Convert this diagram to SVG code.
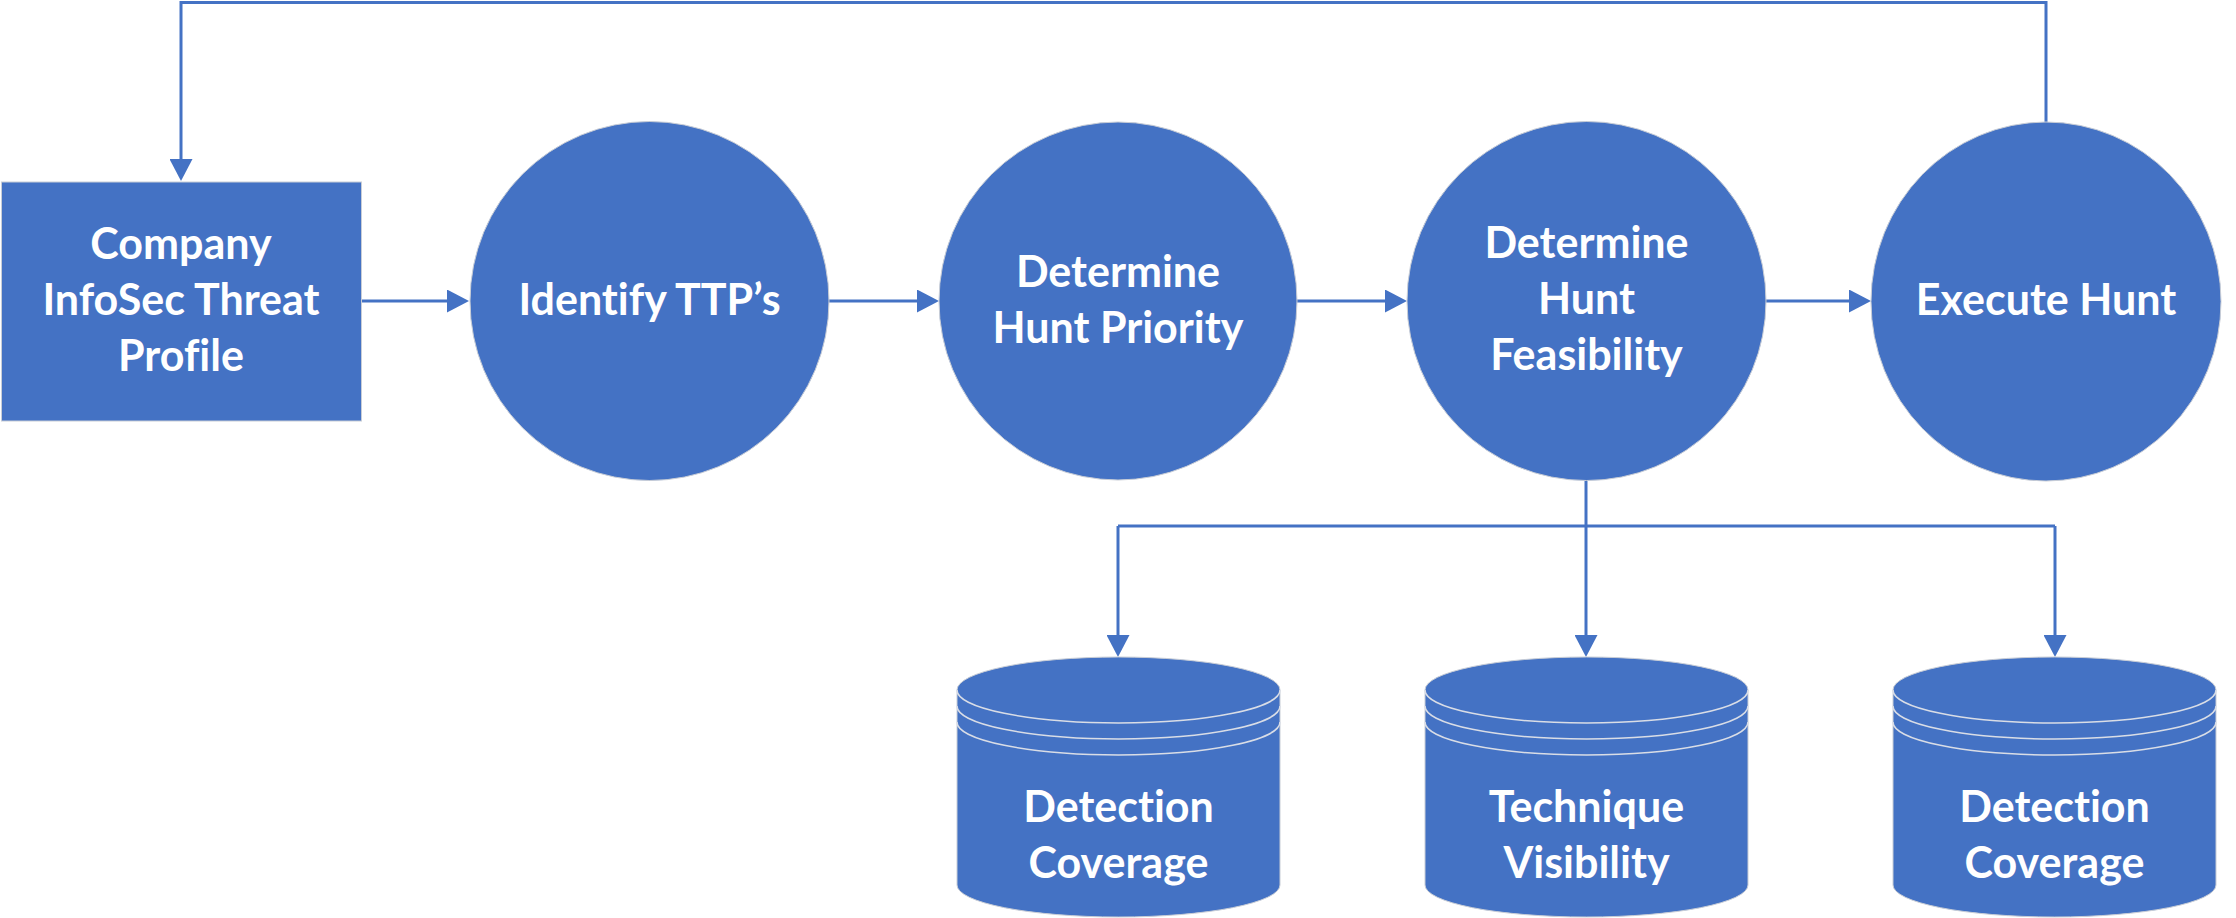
<svg xmlns="http://www.w3.org/2000/svg" width="2236" height="918" viewBox="0 0 2236 918">
<style>
.shape{fill:#4472C4;stroke:#c8cdd6;stroke-width:1}
.band{fill:none;stroke:#d9dde6;stroke-width:1.5}
.lbl{font-family:Lato,"Open Sans","Liberation Sans",sans-serif;font-weight:bold;font-size:43px;fill:#ffffff;text-anchor:middle;font-variant-ligatures:none;font-feature-settings:"liga" 0,"clig" 0}
.conn{fill:none;stroke:#4472C4;stroke-width:3}
</style>
<defs>
<marker id="arr" viewBox="0 0 22 23" markerWidth="22" markerHeight="23" refX="12" refY="11.5" orient="auto" markerUnits="userSpaceOnUse">
<path d="M0,0 L22,11.5 L0,23 z" fill="#4472C4"/>
</marker>
</defs>
<rect width="2236" height="918" fill="#ffffff"/>
<g id="connectors">
<path class="conn" d="M2046,122 V2.5 H181 V171" marker-end="url(#arr)"/>
<path class="conn" d="M361,301 H459" marker-end="url(#arr)"/>
<path class="conn" d="M829,301 H929" marker-end="url(#arr)"/>
<path class="conn" d="M1297,301 H1397" marker-end="url(#arr)"/>
<path class="conn" d="M1766,301 H1861" marker-end="url(#arr)"/>
<path class="conn" d="M1118,526 H2055"/>
<path class="conn" d="M1586,480 V647" marker-end="url(#arr)"/>
<path class="conn" d="M1118,526 V647" marker-end="url(#arr)"/>
<path class="conn" d="M2055,526 V647" marker-end="url(#arr)"/>
</g>
<g id="node-profile">
<rect class="shape" x="1.5" y="182" width="360" height="239"/>
<text class="lbl" x="181" y="259">Company</text>
<text class="lbl" x="181" y="315">InfoSec Threat</text>
<text class="lbl" x="181" y="371">Profile</text>
</g>
<g id="node-identify">
<circle class="shape" cx="649.5" cy="301" r="179.5"/>
<text class="lbl" x="649.5" y="315">Identify TTP’s</text>
</g>
<g id="node-priority">
<circle class="shape" cx="1118" cy="301" r="179"/>
<text class="lbl" x="1118" y="287">Determine</text>
<text class="lbl" x="1118" y="343">Hunt Priority</text>
</g>
<g id="node-feasibility">
<circle class="shape" cx="1586.5" cy="301" r="179.5"/>
<text class="lbl" x="1586.5" y="258">Determine</text>
<text class="lbl" x="1586.5" y="314">Hunt</text>
<text class="lbl" x="1586.5" y="370">Feasibility</text>
</g>
<g id="node-execute">
<ellipse class="shape" cx="2046" cy="301.5" rx="175" ry="179.5"/>
<text class="lbl" x="2046" y="315">Execute Hunt</text>
</g>
<g id="node-detection1">
<path class="shape" d="M957,690 A161.5,33 0 0 1 1280,690 V885 A161.5,32 0 0 1 957,885 Z"/>
<path class="band" d="M957,690 A161.5,33 0 0 0 1280,690"/>
<path class="band" d="M957,706 A161.5,33 0 0 0 1280,706"/>
<path class="band" d="M957,722 A161.5,33 0 0 0 1280,722"/>
<text class="lbl" x="1118.5" y="822">Detection</text>
<text class="lbl" x="1118.5" y="878">Coverage</text>
</g>
<g id="node-technique">
<path class="shape" d="M1425,690 A161.5,33 0 0 1 1748,690 V885 A161.5,32 0 0 1 1425,885 Z"/>
<path class="band" d="M1425,690 A161.5,33 0 0 0 1748,690"/>
<path class="band" d="M1425,706 A161.5,33 0 0 0 1748,706"/>
<path class="band" d="M1425,722 A161.5,33 0 0 0 1748,722"/>
<text class="lbl" x="1586.5" y="822">Technique</text>
<text class="lbl" x="1586.5" y="878">Visibility</text>
</g>
<g id="node-detection2">
<path class="shape" d="M1893,690 A161.5,33 0 0 1 2216,690 V885 A161.5,32 0 0 1 1893,885 Z"/>
<path class="band" d="M1893,690 A161.5,33 0 0 0 2216,690"/>
<path class="band" d="M1893,706 A161.5,33 0 0 0 2216,706"/>
<path class="band" d="M1893,722 A161.5,33 0 0 0 2216,722"/>
<text class="lbl" x="2054.5" y="822">Detection</text>
<text class="lbl" x="2054.5" y="878">Coverage</text>
</g>
</svg>
